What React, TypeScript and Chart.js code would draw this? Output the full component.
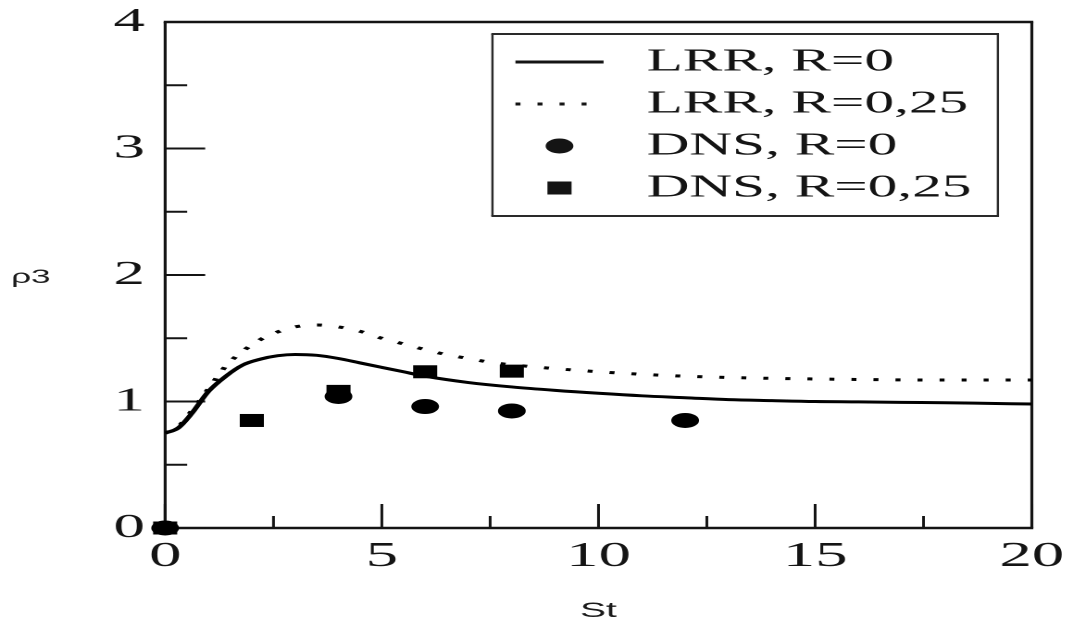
import React, { useEffect, useRef } from "react";
import { Chart, registerables } from "chart.js";

Chart.register(...registerables);

// ---- data ----
const lrrR0X = [0, 0.3, 0.6, 1, 1.4, 1.8, 2.2, 2.6, 3, 3.5, 4, 4.5, 5, 5.5, 6, 7, 8, 9, 10, 11, 12, 13, 14, 15, 16, 17, 18, 19, 20];
const lrrR0Y = [0.75, 0.79, 0.9, 1.08, 1.2, 1.29, 1.335, 1.362, 1.372, 1.365, 1.34, 1.305, 1.27, 1.235, 1.2, 1.15, 1.115, 1.088, 1.065, 1.045, 1.03, 1.015, 1.007, 1.0, 0.997, 0.993, 0.99, 0.985, 0.98];

const lrrR025X = [0, 0.3, 0.6, 1, 1.4, 1.8, 2.2, 2.6, 3, 3.5, 4, 4.5, 5, 5.5, 6, 6.5, 7, 7.5, 8, 9, 10, 11, 12, 13, 14, 15, 16, 17, 18, 19, 20];
const lrrR025Y = [0.75, 0.8, 0.92, 1.1, 1.28, 1.4, 1.49, 1.55, 1.59, 1.605, 1.59, 1.555, 1.5, 1.455, 1.41, 1.37, 1.34, 1.31, 1.29, 1.26, 1.235, 1.215, 1.2, 1.19, 1.183, 1.178, 1.174, 1.171, 1.17, 1.17, 1.17];

const dnsR0X = [0, 4, 6, 8, 12];
const dnsR0Y = [0, 1.04, 0.96, 0.925, 0.85];

const dnsR025X = [0, 2, 4, 6, 8];
const dnsR025Y = [0, 0.85, 1.08, 1.235, 1.24];

const xTickValues = [0, 5, 10, 15, 20];
const yTickValues = [0, 1, 2, 3, 4];
const seriesLabels = ["LRR, R=0", "LRR, R=0,25", "DNS, R=0", "DNS, R=0,25"];
const xTitle = "St";
const yTitle = "ρ3";

// ---- layout (final picture is horizontally stretched) ----
const STRETCH = 1.85;
const FULL_W = 1069;
const FULL_H = 628;
const PLOT_L = 165;
const PLOT_R = 1031;
const PLOT_T = 22;
const PLOT_B = 528;
const INK = "#141414";
const SERIF = "'Liberation Serif', 'Times New Roman', serif";
const SANS = "'Liberation Sans', Arial, sans-serif";

const cx = (px: number) => px / STRETCH;

const toPts = (xs: number[], ys: number[]) => xs.map((x, i) => ({ x, y: ys[i] }));

const DOTS = [2.7, 9.2];

const framePlugin = {
  id: "frameTicks",
  beforeDatasetsDraw(chart: any) {
    const { ctx, chartArea: a, scales } = chart;
    const xs = scales.x;
    const ys = scales.y;
    ctx.save();
    ctx.strokeStyle = INK;
    // horizontal frame lines
    ctx.lineWidth = 2.4;
    ctx.beginPath();
    ctx.moveTo(a.left - 0.8, a.top);
    ctx.lineTo(a.right + 0.8, a.top);
    ctx.moveTo(a.left - 0.8, a.bottom);
    ctx.lineTo(a.right + 0.8, a.bottom);
    ctx.stroke();
    // vertical frame lines
    ctx.lineWidth = 1.6;
    ctx.beginPath();
    ctx.moveTo(a.left, a.top);
    ctx.lineTo(a.left, a.bottom);
    ctx.moveTo(a.right, a.top);
    ctx.lineTo(a.right, a.bottom);
    ctx.stroke();
    // y ticks (inward)
    const yMaj = cx(40);
    const yMin = cx(22);
    const yv = ys.ticks.map((t: any) => t.value);
    ctx.lineWidth = 2;
    ctx.beginPath();
    yv.forEach((v: number, i: number) => {
      const p = ys.getPixelForValue(v);
      ctx.moveTo(a.left, p);
      ctx.lineTo(a.left + yMaj, p);
      if (i < yv.length - 1) {
        const pm = ys.getPixelForValue((v + yv[i + 1]) / 2);
        ctx.moveTo(a.left, pm);
        ctx.lineTo(a.left + yMin, pm);
      }
    });
    ctx.stroke();
    // x ticks (inward)
    const xv = xs.ticks.map((t: any) => t.value);
    ctx.lineWidth = 1.5;
    ctx.beginPath();
    xv.forEach((v: number, i: number) => {
      const p = xs.getPixelForValue(v);
      ctx.moveTo(p, a.bottom);
      ctx.lineTo(p, a.bottom - 24);
      if (i < xv.length - 1) {
        const pm = xs.getPixelForValue((v + xv[i + 1]) / 2);
        ctx.moveTo(pm, a.bottom);
        ctx.lineTo(pm, a.bottom - 12);
      }
    });
    ctx.stroke();
    ctx.restore();
  },
  afterDraw(chart: any) {
    const { ctx } = chart;
    const ds = chart.data.datasets;
    ctx.save();
    // legend box
    const L = cx(492), R = cx(997), T = 34, B = 216;
    ctx.strokeStyle = "#2a2a2a";
    ctx.lineWidth = 2;
    ctx.beginPath();
    ctx.moveTo(L - 0.6, T);
    ctx.lineTo(R + 0.6, T);
    ctx.moveTo(L - 0.6, B);
    ctx.lineTo(R + 0.6, B);
    ctx.stroke();
    ctx.lineWidth = 1.2;
    ctx.beginPath();
    ctx.moveTo(L, T);
    ctx.lineTo(L, B);
    ctx.moveTo(R, T);
    ctx.lineTo(R, B);
    ctx.stroke();

    const rows = [62, 104, 146, 188];
    const sx0 = cx(515), sx1 = cx(603), mx = cx(559), tx = cx(646);
    ctx.fillStyle = INK;
    ctx.strokeStyle = INK;
    ds.forEach((d: any, i: number) => {
      const y = rows[i];
      if (d.showLine) {
        ctx.save();
        ctx.lineWidth = d.borderWidth;
        ctx.setLineDash(d.borderDash || []);
        ctx.beginPath();
        ctx.moveTo(sx0, y);
        ctx.lineTo(sx1, y);
        ctx.stroke();
        ctx.restore();
      } else if (d.pointStyle === "circle") {
        ctx.beginPath();
        ctx.arc(mx, y, d.pointRadius, 0, Math.PI * 2);
        ctx.fill();
      } else {
        const h = d.pointRadius * Math.SQRT1_2;
        ctx.fillRect(mx - h, y - h, 2 * h, 2 * h);
      }
      ctx.font = `32px ${SERIF}`;
      ctx.textAlign = "left";
      ctx.textBaseline = "middle";
      ctx.fillText(d.label, tx, y);
    });

    // y-axis title (horizontal, left)
    ctx.fillStyle = "#1b1b1b";
    ctx.font = `19px ${SANS}`;
    ctx.textAlign = "left";
    ctx.textBaseline = "alphabetic";
    ctx.fillText(yTitle, cx(11), 283);
    ctx.restore();
  },
};

export default function App() {
  const ref = useRef<HTMLCanvasElement>(null);

  useEffect(() => {
    if (!ref.current) return;
    const chart = new Chart(ref.current, {
      type: "scatter",
      data: {
        datasets: [
          {
            label: seriesLabels[0],
            data: toPts(lrrR0X, lrrR0Y),
            showLine: true,
            borderColor: "#000",
            borderWidth: 3,
            pointRadius: 0,
            tension: 0.4,
            cubicInterpolationMode: "monotone",
            fill: false,
          },
          {
            label: seriesLabels[1],
            data: toPts(lrrR025X, lrrR025Y),
            showLine: true,
            borderColor: "#000",
            borderWidth: 3,
            borderDash: DOTS,
            borderCapStyle: "butt",
            pointRadius: 0,
            tension: 0.4,
            cubicInterpolationMode: "monotone",
            fill: false,
          },
          {
            label: seriesLabels[2],
            data: toPts(dnsR0X, dnsR0Y),
            showLine: false,
            pointStyle: "circle",
            pointRadius: 7.5,
            pointBackgroundColor: "#000",
            pointBorderWidth: 0,
            clip: false,
          },
          {
            label: seriesLabels[3],
            data: toPts(dnsR025X, dnsR025Y),
            showLine: false,
            pointStyle: "rect",
            pointRadius: 9.2,
            pointBackgroundColor: "#000",
            pointBorderWidth: 0,
            clip: false,
          },
        ] as any,
      },
      options: {
        animation: false,
        responsive: true,
        maintainAspectRatio: false,
        devicePixelRatio: 2,
        events: [],
        layout: {
          padding: { left: 0, top: PLOT_T, right: cx(FULL_W - PLOT_R), bottom: 0 },
        },
        plugins: {
          legend: { display: false },
          tooltip: { enabled: false },
        },
        scales: {
          x: {
            type: "linear",
            min: 0,
            max: 20,
            grid: { display: false },
            border: { display: false },
            afterBuildTicks: (s: any) => {
              s.ticks = xTickValues.map((value) => ({ value }));
            },
            afterFit: (s: any) => {
              s.height = FULL_H - PLOT_B;
            },
            ticks: {
              color: INK,
              padding: 0,
              autoSkip: false,
              maxRotation: 0,
              font: { family: SERIF, size: 35 },
            },
            title: {
              display: true,
              text: xTitle,
              color: "#1b1b1b",
              font: { family: SANS, size: 21 },
              padding: { top: 0, bottom: 4 },
            },
          },
          y: {
            type: "linear",
            min: 0,
            max: 4,
            grid: { display: false },
            border: { display: false },
            afterBuildTicks: (s: any) => {
              s.ticks = yTickValues.map((value) => ({ value }));
            },
            afterFit: (s: any) => {
              s.width = cx(PLOT_L);
            },
            ticks: {
              color: INK,
              padding: 3,
              font: { family: SERIF, size: 34, lineHeight: 0.6 },
            },
          },
        },
      } as any,
      plugins: [framePlugin],
    });
    return () => chart.destroy();
  }, []);

  return (
    <div
      style={{
        position: "fixed",
        left: 0,
        top: 0,
        width: FULL_W,
        height: FULL_H,
        overflow: "hidden",
        background: "#fff",
      }}
    >
      <div
        style={{
          position: "relative",
          width: FULL_W / STRETCH,
          height: FULL_H,
          transform: `scaleX(${STRETCH})`,
          transformOrigin: "0 0",
        }}
      >
        <canvas ref={ref} />
      </div>
    </div>
  );
}
